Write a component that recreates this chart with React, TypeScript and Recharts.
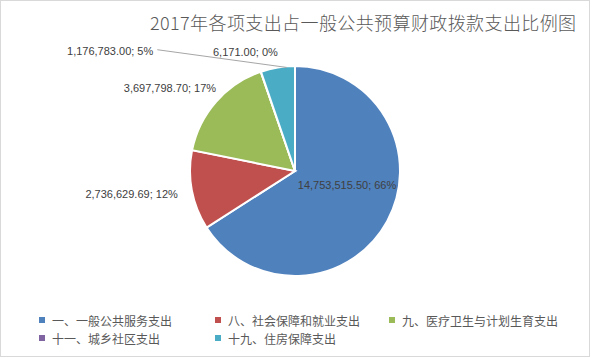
import React from "react"
import { PieChart, Pie, Cell, Legend } from "recharts"

const categories = [
  "一、一般公共服务支出",
  "八、社会保障和就业支出",
  "九、医疗卫生与计划生育支出",
  "十一、城乡社区支出",
  "十九、住房保障支出",
]
const amounts = [14753515.5, 2736629.69, 3697798.7, 6171.0, 1176783.0]
const colors = ["#4F81BD", "#C0504D", "#9BBB59", "#8064A2", "#4BACC6"]

const title = "2017年各项支出占一般公共预算财政拨款支出比例图"

const data = categories.map((name, i) => ({ name, value: amounts[i] }))

// label tweaks (Excel best-fit + one label dragged away with a leader line)
const labelShift = [
  [6, -11],
  [0, 0],
  [0, 0],
  [0, 0],
  [-158, 4],
]
const leaderLine = [false, false, false, false, true]

const RAD = Math.PI / 180
const labelFont = "'Liberation Sans', 'Noto Sans CJK SC', sans-serif"
const cjkFont = "'Noto Sans CJK SC', 'Liberation Sans', sans-serif"

function textWidth(s: string) {
  let w = 0
  for (const ch of s) {
    if (/[0-9]/.test(ch)) w += 6.12
    else if (ch === "%") w += 9.78
    else w += 3.06
  }
  return w
}

function fmt(v: number) {
  return v.toLocaleString("en-US", { minimumFractionDigits: 2, maximumFractionDigits: 2 })
}

function renderLabel(props: any) {
  const { cx, cy, midAngle, outerRadius, index, value, percent } = props
  const text = `${fmt(value)}; ${Math.round(percent * 100)}%`
  const dx = Math.cos(-midAngle * RAD)
  const dy = Math.sin(-midAngle * RAD)
  const w = textWidth(text)
  const h = 12
  let bx: number
  let by: number
  if (index === 0) {
    bx = cx + dx * outerRadius * 0.5
    by = cy + dy * outerRadius * 0.5
  } else {
    const r = outerRadius + 15
    bx = cx + dx * r + (w / 2) * dx
    by = cy + dy * r + (h / 2) * dy
  }
  bx += labelShift[index][0]
  by += labelShift[index][1]
  return (
    <g key={`lbl-${index}`}>
      {leaderLine[index] && (
        <polyline
          points={`${bx + w / 2 + 4},${by - 1} ${cx + dx * outerRadius + 9},${cy + dy * outerRadius}`}
          fill="none"
          stroke="#a6a6a6"
          strokeWidth={1}
        />
      )}
      <text
        x={bx}
        y={by}
        textAnchor="middle"
        dominantBaseline="central"
        fontSize={11}
        fontFamily={labelFont}
        fill="#404040"
      >
        {text}
      </text>
    </g>
  )
}

const legendCols = [39, 215, 389]

function renderLegend(props: any) {
  const payload = props.payload || []
  return (
    <div style={{ position: "relative", width: 590, height: 40 }}>
      {payload.map((entry: any, i: number) => (
        <div
          key={i}
          style={{
            position: "absolute",
            left: legendCols[i % 3],
            top: Math.floor(i / 3) * 18,
            height: 18,
            display: "flex",
            alignItems: "center",
            whiteSpace: "nowrap",
          }}
        >
          <span
            style={{
              display: "inline-block",
              width: 6,
              height: 6,
              background: colors[i],
              marginRight: 7,
            }}
          />
          <span style={{ fontSize: 12, color: "#595959", fontFamily: cjkFont }}>
            {categories[i]}
          </span>
        </div>
      ))}
    </div>
  )
}

export default function App() {
  return (
    <div
      style={{
        position: "absolute",
        left: 0,
        top: 0,
        width: 590,
        height: 357,
        border: "1px solid #d9d9d9",
        boxSizing: "border-box",
        background: "#fff",
      }}
    >
      <div
        style={{
          position: "absolute",
          left: 149,
          top: 10,
          lineHeight: "22px",
          fontSize: 18,
          letterSpacing: 0.4,
          color: "#595959",
          fontFamily: cjkFont,
          fontWeight: 300,
          whiteSpace: "nowrap",
        }}
      >
        {title}
      </div>
      <div style={{ position: "absolute", left: -1, top: -1 }}>
        <PieChart width={590} height={358} margin={{ top: 0, right: 0, bottom: 0, left: 0 }}>
          <Pie
            data={data}
            dataKey="value"
            nameKey="name"
            cx={295}
            cy={171}
            outerRadius={105}
            startAngle={90}
            endAngle={-270}
            stroke="#ffffff"
            strokeWidth={2}
            label={renderLabel}
            labelLine={false}
            isAnimationActive={false}
          >
            {data.map((d, i) => (
              <Cell key={d.name} fill={colors[i]} />
            ))}
          </Pie>
          <Legend
            content={renderLegend}
            wrapperStyle={{ position: "absolute", left: 0, top: 311, width: 590, height: 40 }}
          />
        </PieChart>
      </div>
    </div>
  )
}
